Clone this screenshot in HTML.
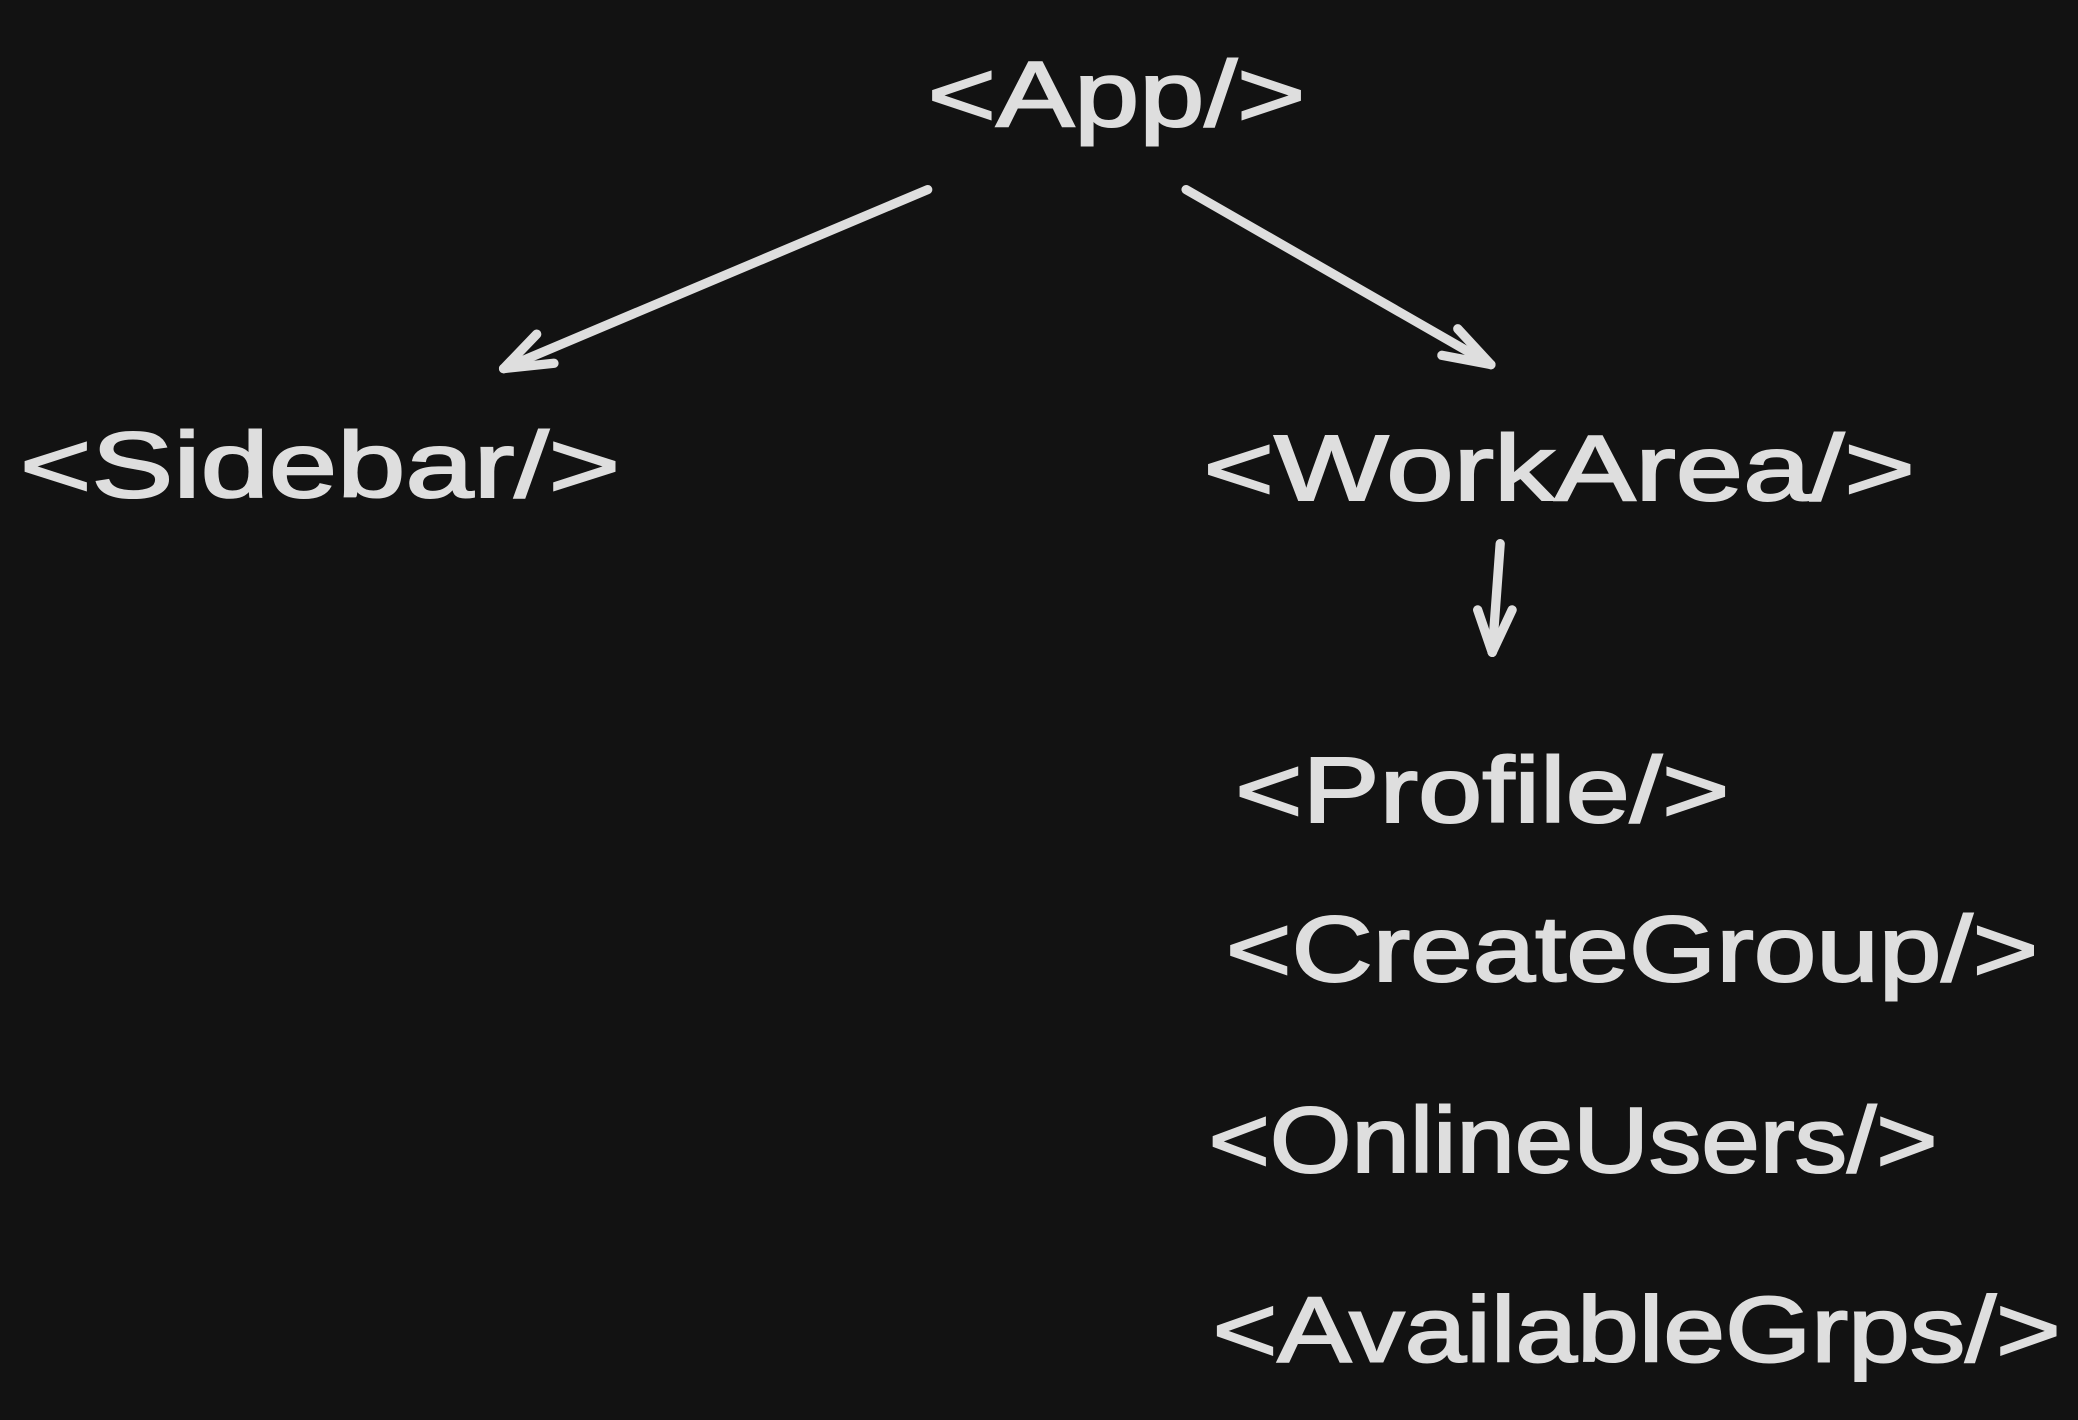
<!DOCTYPE html>
<html>
<head>
<meta charset="utf-8">
<style>
  html,body{margin:0;padding:0;background:#121212;}
  svg{display:block;}
  text{font-family:"Liberation Sans",sans-serif;fill:#dedede;stroke:#dedede;stroke-width:1.5;font-size:70px;}
</style>
</head>
<body>
<svg width="2078" height="1420" viewBox="0 0 1568 1071" preserveAspectRatio="none">
  <rect width="1568" height="1071" fill="#121212"/>
  <g stroke="#dedede" stroke-width="7" stroke-linecap="round" stroke-linejoin="round" fill="none">
    <path d="M700 143 L380 278"/>
    <path d="M380 278 L405 252"/>
    <path d="M380 278 L418 274"/>
    <path d="M895 143 L1125 275"/>
    <path d="M1125 275 L1100 248"/>
    <path d="M1125 275 L1088 268"/>
    <path d="M1132 410 L1126 492"/>
    <path d="M1126 492 L1115 460"/>
    <path d="M1126 492 L1141 460"/>
  </g>
  <text x="700" y="95" textLength="285" lengthAdjust="spacingAndGlyphs">&lt;App/&gt;</text>
  <text x="15" y="375" textLength="453" lengthAdjust="spacingAndGlyphs">&lt;Sidebar/&gt;</text>
  <text x="908" y="377" textLength="537" lengthAdjust="spacingAndGlyphs">&lt;WorkArea/&gt;</text>
  <text x="932" y="620" textLength="373" lengthAdjust="spacingAndGlyphs">&lt;Profile/&gt;</text>
  <text x="925" y="740" textLength="613" lengthAdjust="spacingAndGlyphs">&lt;CreateGroup/&gt;</text>
  <text x="912" y="884" textLength="550" lengthAdjust="spacingAndGlyphs">&lt;OnlineUsers/&gt;</text>
  <text x="915" y="1027" textLength="640" lengthAdjust="spacingAndGlyphs">&lt;AvailableGrps/&gt;</text>
</svg>
</body>
</html>
